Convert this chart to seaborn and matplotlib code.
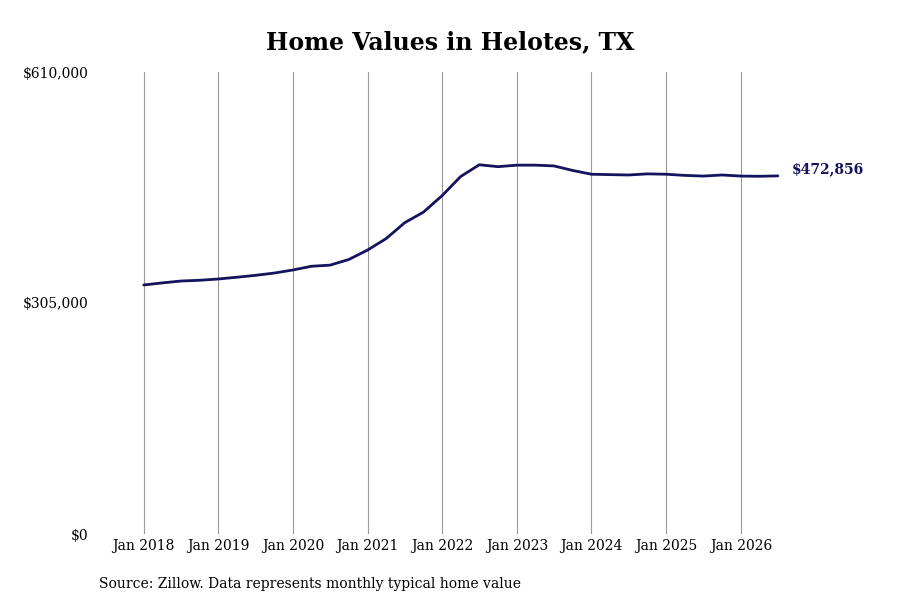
import matplotlib
matplotlib.use("Agg")
import matplotlib.pyplot as plt
import matplotlib.dates as mdates
import pandas as pd
import seaborn as sns

sns.set_theme(style="white")
plt.rcParams['font.family'] = ['DejaVu Serif']

# Quarterly typical home value
dates = ["2018-01", "2018-04", "2018-07", "2018-10", "2019-01", "2019-04", "2019-07", "2019-10",
         "2020-01", "2020-04", "2020-07", "2020-10", "2021-01", "2021-04", "2021-07", "2021-10",
         "2022-01", "2022-04", "2022-07", "2022-10", "2023-01", "2023-04", "2023-07", "2023-10",
         "2024-01", "2024-04", "2024-07", "2024-10", "2025-01", "2025-04", "2025-07", "2025-10",
         "2026-01", "2026-04", "2026-07"]
values = [328800, 331500, 334000, 335000, 336700, 339000, 341500, 344500,
          348600, 353500, 355000, 362500, 375000, 390000, 411000, 425000,
          447000, 472000, 487500, 485000, 487000, 487000, 486000, 480000,
          475000, 474500, 474000, 475500, 475000, 473500, 472600, 474000,
          472600, 472300, 472856]

df = pd.DataFrame({"date": pd.to_datetime(dates), "value": values})

fig, ax = plt.subplots(figsize=(9, 6), dpi=100)
fig.subplots_adjust(left=0.132, right=0.899, top=0.88, bottom=0.11)

sns.lineplot(data=df, x="date", y="value", ax=ax, color="#15125e", linewidth=2)

ax.set_ylim(0, 610000)
ax.set_yticks([0, 305000, 610000])
ax.set_yticklabels(["$0", "$305,000", "$610,000"])
ax.set_xlim(pd.Timestamp("2017-09-01"), pd.Timestamp("2026-12-01"))
ax.xaxis.set_major_locator(mdates.YearLocator())
ax.xaxis.set_major_formatter(mdates.DateFormatter("Jan %Y"))
ax.grid(axis="x", color="#999999", linewidth=0.8)
for s in ax.spines.values():
    s.set_visible(False)
ax.set_xlabel("")
ax.set_ylabel("")
ax.tick_params(labelsize=10, colors="black", length=0)
ax.tick_params(axis="y", pad=22)

ax.annotate("$472,856", (df["date"].iloc[-1], values[-1]), xytext=(10, 5),
            textcoords="offset points", va="center", fontsize=10,
            fontweight="bold", color="#15125e")
fig.suptitle("Home Values in Helotes, TX", fontsize=17, fontweight="bold",
             color="black", y=0.95)
fig.text(0.11, 0.02, "Source: Zillow. Data represents monthly typical home value",
         fontsize=10, color="black")

fig.savefig("out.png")
